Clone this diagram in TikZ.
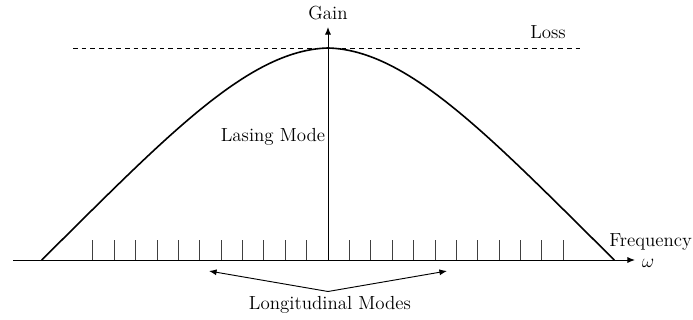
\documentclass[tikz,border=0pt]{standalone}
\usepackage{tikz}
\usetikzlibrary{arrows.meta,positioning,calc}

\begin{document}
\begin{tikzpicture}[
  x=0.75pt,y=-0.75pt,
  lbl/.style={font=\fontsize{14.2}{17}\selectfont,inner sep=0pt},
  axis/.style={-{Latex[length=2mm,width=1.6mm]},line width=0.7pt},
  gaincurve/.style={line width=1.2pt},
  tick/.style={draw=black!75,line width=0.6pt},
  losslevel/.style={dashed,dash pattern=on 3.5pt off 3pt,line width=0.6pt},
  arr/.style={-{Latex[length=2mm,width=1.6mm]},line width=0.7pt}
]
\useasboundingbox (0,0) rectangle (693,320);

% axes
\coordinate (O) at (328,260);
\coordinate (xstart) at (13,260);
\coordinate (xend) at (635,260);
\coordinate (yend) at (328,27);
\draw[axis] (xstart) -- (xend);
\draw[axis] (O) -- (yend);

% longitudinal modes
\foreach \k in {1,...,11} {
  \draw[tick] ($(O)+(-21.38*\k,0)$) -- ++(0,-20);
  \draw[tick] ($(O)+(21.38*\k,0)$) -- ++(0,-20);
}

% loss level and gain curve
\coordinate (lossL) at (73,48);
\coordinate (lossR) at (580,48);
\draw[losslevel] (lossL) -- (lossR);
\coordinate (peak) at (328,48);
\draw[gaincurve] (41.7,260) .. controls (166,137) and (248,50) .. (peak)
  .. controls (408,50) and (490,137) .. (614.3,260);

% labels
\node[lbl] (gain) at (328,13) {Gain};
\node[lbl] (loss) at (548,32) {Loss};
\node[lbl,anchor=east] (lasing) at (325.5,137) {Lasing Mode};
\node[lbl,anchor=west] (freq) at (609,242) {Frequency};
\node[lbl] (omega) at (648,263) {$\omega$};
\node[lbl] (modes) at (330,305) {Longitudinal Modes};

% pointers to the modes
\coordinate (split) at (328,291.5);
\coordinate (modeL) at (209,271);
\coordinate (modeR) at (447,271);
\draw[arr] (split) -- (modeL);
\draw[arr] (split) -- (modeR);
\end{tikzpicture}
\end{document}
